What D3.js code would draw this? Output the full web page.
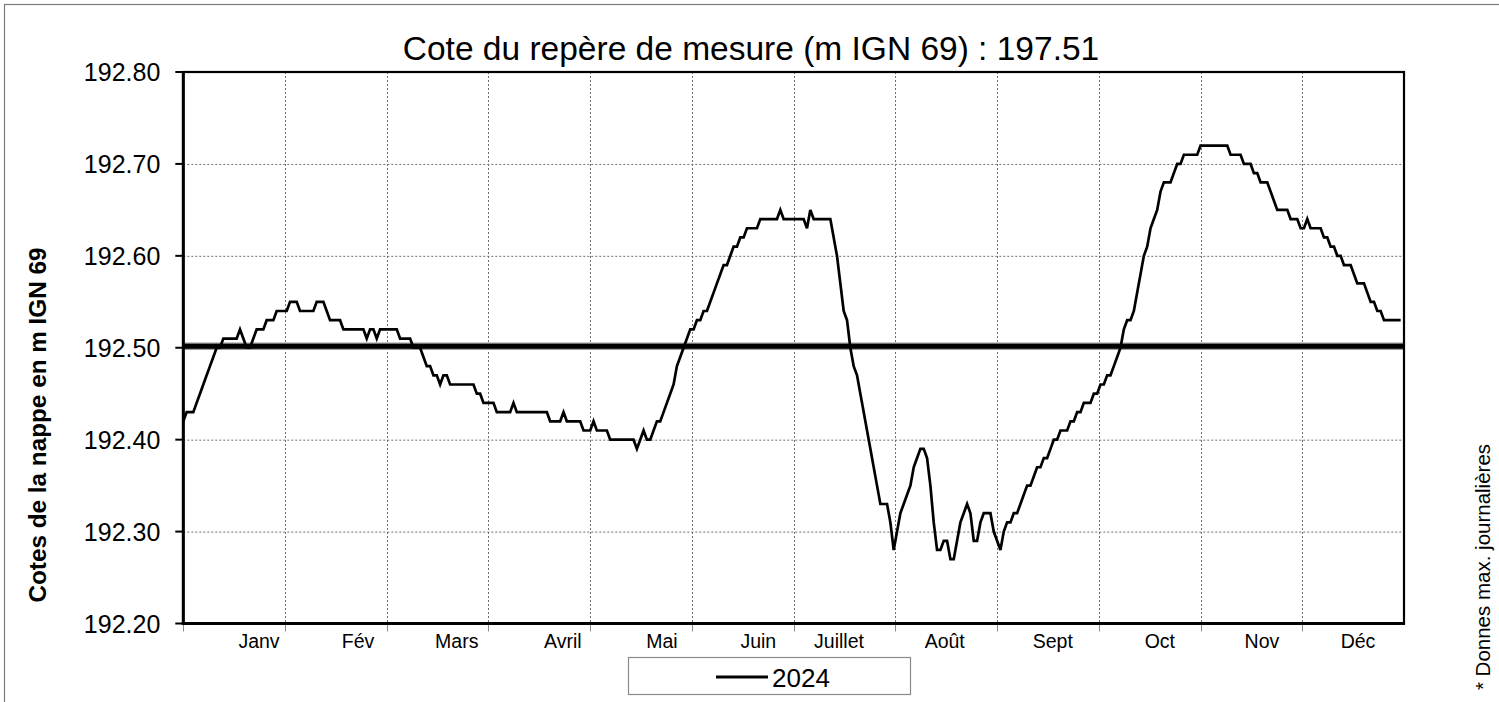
<!DOCTYPE html>
<html>
<head>
<meta charset="utf-8">
<script src="https://cdn.jsdelivr.net/npm/d3@7"></script>
<style>
  html, body { margin: 0; padding: 0; background: #fff; }
  svg { display: block; font-family: "Liberation Sans", Arial, sans-serif; }
</style>
</head>
<body>
<svg id="chart" width="1499" height="702"></svg>
<script>
// Daily maximum groundwater level, 2024 (m IGN 69), one array per month
const jan = [192.42,192.43,192.43,192.43,192.44,192.45,192.46,192.47,192.48,192.49,192.50,192.50,192.51,192.51,192.51,192.51,192.51,192.52,192.51,192.50,192.50,192.51,192.52,192.52,192.52,192.53,192.53,192.53,192.54,192.54,192.54];
const feb = [192.54,192.55,192.55,192.55,192.54,192.54,192.54,192.54,192.54,192.55,192.55,192.55,192.54,192.53,192.53,192.53,192.53,192.52,192.52,192.52,192.52,192.52,192.52,192.52,192.51,192.52,192.52,192.51,192.52];
const mar = [192.52,192.52,192.52,192.52,192.52,192.51,192.51,192.51,192.51,192.50,192.50,192.50,192.49,192.48,192.48,192.47,192.47,192.46,192.47,192.47,192.46,192.46,192.46,192.46,192.46,192.46,192.46,192.46,192.45,192.45,192.44];
const apr = [192.44,192.44,192.44,192.43,192.43,192.43,192.43,192.43,192.44,192.43,192.43,192.43,192.43,192.43,192.43,192.43,192.43,192.43,192.43,192.42,192.42,192.42,192.42,192.43,192.42,192.42,192.42,192.42,192.42,192.41];
const may = [192.41,192.41,192.42,192.41,192.41,192.41,192.41,192.40,192.40,192.40,192.40,192.40,192.40,192.40,192.40,192.39,192.40,192.41,192.40,192.40,192.41,192.42,192.42,192.43,192.44,192.45,192.46,192.48,192.49,192.50,192.51];
const jun = [192.52,192.52,192.53,192.53,192.54,192.54,192.55,192.56,192.57,192.58,192.59,192.59,192.60,192.61,192.61,192.62,192.62,192.63,192.63,192.63,192.63,192.64,192.64,192.64,192.64,192.64,192.64,192.65,192.64,192.64];
const jul = [192.64,192.64,192.64,192.64,192.64,192.63,192.65,192.64,192.64,192.64,192.64,192.64,192.64,192.62,192.60,192.57,192.54,192.53,192.50,192.48,192.47,192.45,192.43,192.41,192.39,192.37,192.35,192.33,192.33,192.33,192.31];
const aug = [192.28,192.30,192.32,192.33,192.34,192.35,192.37,192.38,192.39,192.39,192.38,192.35,192.31,192.28,192.28,192.29,192.29,192.27,192.27,192.29,192.31,192.32,192.33,192.32,192.29,192.29,192.31,192.32,192.32,192.32,192.30];
const sep = [192.29,192.28,192.30,192.31,192.31,192.32,192.32,192.33,192.34,192.35,192.35,192.36,192.37,192.37,192.38,192.38,192.39,192.40,192.40,192.41,192.41,192.41,192.42,192.42,192.43,192.43,192.44,192.44,192.44,192.45];
const oct = [192.45,192.46,192.46,192.47,192.47,192.48,192.49,192.50,192.52,192.53,192.53,192.54,192.56,192.58,192.60,192.61,192.63,192.64,192.65,192.67,192.68,192.68,192.68,192.69,192.70,192.70,192.71,192.71,192.71,192.71,192.71];
const nov = [192.72,192.72,192.72,192.72,192.72,192.72,192.72,192.72,192.72,192.71,192.71,192.71,192.71,192.70,192.70,192.70,192.69,192.69,192.68,192.68,192.68,192.67,192.66,192.65,192.65,192.65,192.65,192.64,192.64,192.64];
const dec = [192.63,192.63,192.64,192.63,192.63,192.63,192.63,192.62,192.62,192.61,192.61,192.60,192.60,192.59,192.59,192.59,192.58,192.57,192.57,192.57,192.56,192.55,192.55,192.54,192.54,192.53,192.53,192.53,192.53,192.53,192.53];

// Reference level drawn as a heavy horizontal rule
const referenceLevel = 192.50;

// Axis texts
const yTickValues = [192.20, 192.30, 192.40, 192.50, 192.60, 192.70, 192.80];
const monthNames = ["Janv", "Fév", "Mars", "Avril", "Mai", "Juin", "Juillet", "Août", "Sept", "Oct", "Nov", "Déc"];
const monthLabelDays = [22.7, 52.4, 82.0, 113.8, 143.5, 172.4, 196.6, 228.3, 260.7, 292.8, 323.4, 352.2];
const seriesName = "2024";
const titleText = "Cote du repère de mesure (m IGN 69) : 197.51";
const yTitleText = "Cotes de la nappe en m IGN 69";
const noteText = "* Donnes max. journalières";

const levels = [].concat(jan, feb, mar, apr, may, jun, jul, aug, sep, oct, nov, dec);
const daysInYear = levels.length; // 366

const svg = d3.select("#chart");
const plot = { left: 183.3, right: 1404, top: 72, bottom: 623.5 };

const x = d3.scaleLinear().domain([0, daysInYear]).range([plot.left, plot.right]);
const y = d3.scaleLinear().domain([192.20, 192.80]).range([plot.bottom, plot.top]);

// Outer frame
svg.append("rect")
  .attr("x", 4.5).attr("y", 4.5)
  .attr("width", 1510).attr("height", 710)
  .attr("fill", "none").attr("stroke", "#7a7a7a").attr("stroke-width", 1.2);

// Horizontal grid
svg.append("g").selectAll("line").data(yTickValues).join("line")
  .attr("x1", plot.left).attr("x2", plot.right)
  .attr("y1", d => y(d) + 0.5).attr("y2", d => y(d) + 0.5)
  .attr("stroke", "#6e6e6e").attr("stroke-width", 1)
  .attr("stroke-dasharray", "2,2");

// Vertical grid: twelve equal divisions of the year
const gridDays = d3.range(1, 12).map(i => i * daysInYear / 12);
svg.append("g").selectAll("line").data(gridDays).join("line")
  .attr("x1", d => Math.round(x(d)) + 0.5).attr("x2", d => Math.round(x(d)) + 0.5)
  .attr("y1", plot.top).attr("y2", plot.bottom)
  .attr("stroke", "#6e6e6e").attr("stroke-width", 1)
  .attr("stroke-dasharray", "2,2");

// X tick marks below the axis
svg.append("g").selectAll("line").data([0].concat(gridDays)).join("line")
  .attr("x1", d => Math.round(x(d)) + 0.5).attr("x2", d => Math.round(x(d)) + 0.5)
  .attr("y1", plot.bottom).attr("y2", plot.bottom + 8)
  .attr("stroke", "#8a8a8a").attr("stroke-width", 1);

// Reference level rule
svg.append("line")
  .attr("x1", plot.left).attr("x2", plot.right)
  .attr("y1", y(referenceLevel) - 1.5).attr("y2", y(referenceLevel) - 1.5)
  .attr("stroke", "#9a9a9a").attr("stroke-width", 7.5);
svg.append("line")
  .attr("x1", plot.left).attr("x2", plot.right)
  .attr("y1", y(referenceLevel) - 1.5).attr("y2", y(referenceLevel) - 1.5)
  .attr("stroke", "#000").attr("stroke-width", 5);

// Level series
const line = d3.line()
  .x((d, i) => x(i))
  .y(d => y(d));
svg.append("path")
  .datum(levels)
  .attr("d", line)
  .attr("fill", "none")
  .attr("stroke", "#000")
  .attr("stroke-width", 2.7)
  .attr("stroke-linejoin", "miter")
  .attr("stroke-miterlimit", 3);

// Plot border and axes
svg.append("rect")
  .attr("x", plot.left).attr("y", plot.top)
  .attr("width", plot.right - plot.left).attr("height", plot.bottom - plot.top)
  .attr("fill", "none").attr("stroke", "#000").attr("stroke-width", 2.2);
svg.append("line")
  .attr("x1", plot.left).attr("x2", plot.left)
  .attr("y1", plot.top - 1).attr("y2", plot.bottom + 1.5)
  .attr("stroke", "#000").attr("stroke-width", 3);
svg.append("line")
  .attr("x1", plot.left - 1.5).attr("x2", plot.right + 1)
  .attr("y1", plot.bottom).attr("y2", plot.bottom)
  .attr("stroke", "#000").attr("stroke-width", 3);

// Y ticks and labels
const yAxis = svg.append("g");
yAxis.selectAll("line").data(yTickValues).join("line")
  .attr("x1", plot.left - 8).attr("x2", plot.left)
  .attr("y1", d => y(d)).attr("y2", d => y(d))
  .attr("stroke", "#000").attr("stroke-width", 2);
yAxis.selectAll("text").data(yTickValues).join("text")
  .attr("x", plot.left - 23).attr("y", d => y(d))
  .attr("dy", "0.36em")
  .attr("text-anchor", "end")
  .attr("font-size", 25)
  .attr("fill", "#000")
  .text(d => d3.format(".2f")(d));

// Month labels
svg.append("g").selectAll("text").data(monthNames).join("text")
  .attr("x", (d, i) => x(monthLabelDays[i]))
  .attr("y", 648)
  .attr("text-anchor", "middle")
  .attr("font-size", 19.5)
  .attr("fill", "#000")
  .text(d => d);

// Title
svg.append("text")
  .attr("x", 751).attr("y", 60)
  .attr("text-anchor", "middle")
  .attr("font-size", 33.5)
  .attr("fill", "#000")
  .text(titleText);

// Y-axis title
svg.append("text")
  .attr("transform", "translate(46,425) rotate(-90)")
  .attr("text-anchor", "middle")
  .attr("font-size", 24.3)
  .attr("font-weight", "bold")
  .attr("fill", "#000")
  .text(yTitleText);

// Side note
svg.append("text")
  .attr("transform", "translate(1490,567) rotate(-90)")
  .attr("text-anchor", "middle")
  .attr("font-size", 20.5)
  .attr("fill", "#000")
  .text(noteText);

// Legend
const legend = svg.append("g");
legend.append("rect")
  .attr("x", 628.5).attr("y", 657.5)
  .attr("width", 282).attr("height", 37)
  .attr("fill", "#fff").attr("stroke", "#8a8a8a").attr("stroke-width", 1.2);
legend.append("line")
  .attr("x1", 716).attr("x2", 768)
  .attr("y1", 677).attr("y2", 677)
  .attr("stroke", "#000").attr("stroke-width", 3);
legend.append("text")
  .attr("x", 772).attr("y", 686.5)
  .attr("font-size", 26)
  .attr("fill", "#000")
  .text(seriesName);
</script>
</body>
</html>
